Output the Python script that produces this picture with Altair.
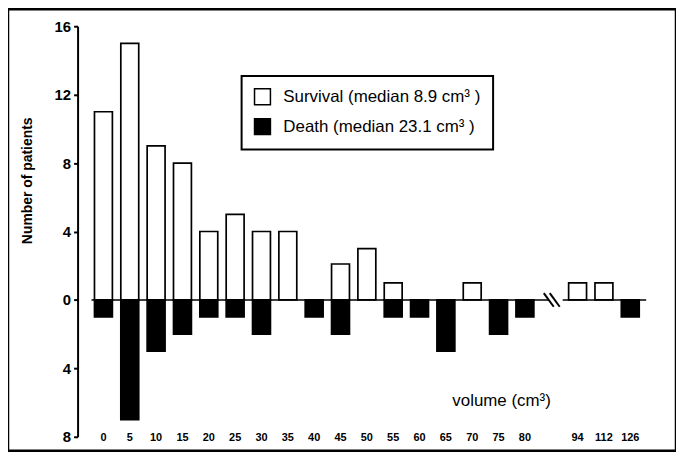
import altair as alt
import pandas as pd

cats = ["0", "5", "10", "15", "20", "25", "30", "35", "40", "45", "50", "55",
        "60", "65", "70", "75", "80", " ", "94", "112", "126"]
survival = [11, 15, 9, 8, 4, 5, 4, 4, 0, 2.1, 3, 1, 0, 0, 1, 0, 0, None, 1, 1, 0]
death = [1, 7, 3, 2, 1, 1, 2, 0, 1, 2, 0, 1, 1, 3, 0, 2, 1, None, 0, 0, 1]

S_LAB = "Survival (median 8.9 cm³ )"
D_LAB = "Death (median 23.1 cm³ )"

rows = []
for c, s, d in zip(cats, survival, death):
    if s is None:
        continue
    if s > 0:
        rows.append({"cat": c, "series": S_LAB, "v": s})
    if d > 0:
        rows.append({"cat": c, "series": D_LAB, "v": -d})
df = pd.DataFrame(rows)

FONT = "Liberation Sans"

xscale = alt.Scale(domain=cats, range=[82.75, 639.25], paddingInner=0.32, paddingOuter=0.16)
yscale = alt.Scale(domain=[-8, 16], range=[430, 17], nice=False, zero=False)

bars = alt.Chart(df).mark_bar(stroke="black", strokeWidth=1.7).encode(
    x=alt.X("cat:N", sort=cats, scale=xscale,
            axis=alt.Axis(title="volume (cm³)", domain=False, ticks=False, labelAngle=0,
                          offset=-22, labelPadding=3, labelFont=FONT, labelFontSize=11,
                          labelFontWeight="bold", labelColor="black",
                          titleFont=FONT, titleFontSize=17, titleFontWeight="normal",
                          titleColor="black", titleX=496, titleY=-36)),
    y=alt.Y("v:Q", scale=yscale,
            axis=alt.Axis(title="Number of patients", values=[-8, -4, 0, 4, 8, 12, 16],
                          labelExpr="abs(datum.value)", offset=-70, grid=False,
                          domainColor="black", domainWidth=2, tickColor="black",
                          tickWidth=2, tickSize=4, labelPadding=3, labelFont=FONT,
                          labelFontSize=15, labelFontWeight="bold", labelColor="black",
                          titleFont=FONT, titleFontSize=14, titleFontWeight="bold",
                          titleColor="black", titleX=-43, titleY=172)),
    color=alt.Color("series:N",
                    scale=alt.Scale(domain=[S_LAB, D_LAB], range=["white", "black"]),
                    legend=alt.Legend(title=None, orient="none", legendX=235, legendY=67,
                                      strokeColor="black", padding=12,
                                      fillColor="white",
                                      symbolType="square", symbolSize=256,
                                      symbolStrokeColor="black", symbolStrokeWidth=1.5,
                                      labelFont=FONT, labelFontSize=17, labelColor="black",
                                      labelLimit=400, rowPadding=8, labelOffset=12)),
)

zero1 = alt.Chart(pd.DataFrame({"z": [0]})).mark_rule(color="black", strokeWidth=1.5).encode(
    y=alt.Y("z:Q", scale=yscale), x=alt.value(84), x2=alt.value(544))
zero2 = alt.Chart(pd.DataFrame({"z": [0]})).mark_rule(color="black", strokeWidth=1.5).encode(
    y=alt.Y("z:Q", scale=yscale), x=alt.value(558), x2=alt.value(642))
brk1 = alt.Chart(pd.DataFrame({"a": [0.4], "b": [-0.4]})).mark_rule(color="black", strokeWidth=2).encode(
    y=alt.Y("a:Q", scale=yscale), y2="b:Q", x=alt.value(539), x2=alt.value(549))
brk2 = alt.Chart(pd.DataFrame({"a": [0.4], "b": [-0.4]})).mark_rule(color="black", strokeWidth=2).encode(
    y=alt.Y("a:Q", scale=yscale), y2="b:Q", x=alt.value(545), x2=alt.value(555))

chart = alt.layer(bars, zero1, zero2, brk1, brk2).properties(
    width=672, height=444, padding=0, autosize="none",
    background="white",
).configure_view(stroke="black", strokeWidth=2.5).configure_legend(strokeWidth=2)

chart.save("out.html", embed_options={"renderer": "svg", "actions": False})
